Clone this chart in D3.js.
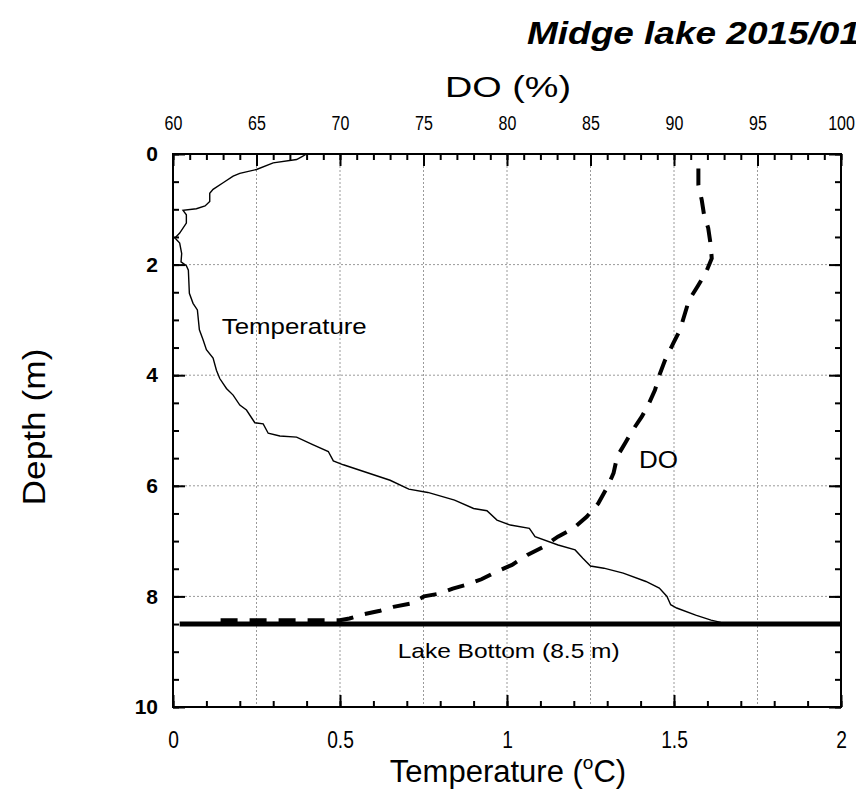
<!DOCTYPE html>
<html>
<head>
<meta charset="utf-8">
<script src="https://cdn.jsdelivr.net/npm/d3@7"></script>
<style>
    body { margin: 0; background: #fff; }
    svg { display: block; }
    .tick text { fill: #000; }
    .tick line { stroke: #000; stroke-width: 2; }
</style>
</head>
<body>
<svg id="chart" width="856" height="805"></svg>
<script>
// values
const tempDepth = [0.00, 0.05, 0.10, 0.16, 0.28, 0.35, 0.40, 0.52, 0.64, 0.71, 0.86, 0.94, 0.99, 1.02, 1.10, 1.25, 1.43, 1.52, 1.61, 1.80,
    1.95, 2.02, 2.10, 2.52, 2.70, 2.82, 3.18, 3.36, 3.54, 3.69, 3.91, 4.06, 4.24, 4.36, 4.54, 4.63, 4.86, 4.88, 5.05, 5.10,
    5.12, 5.26, 5.38, 5.55, 5.62, 5.90, 6.06, 6.12, 6.26, 6.41, 6.45, 6.62, 6.71, 6.77, 6.92, 7.07, 7.16, 7.31, 7.45, 7.49,
    7.58, 7.73, 7.85, 8.00, 8.15, 8.21, 8.34, 8.43, 8.47];
const tempValue = [0.40, 0.385, 0.37, 0.30, 0.25, 0.20, 0.18, 0.15, 0.12, 0.11, 0.11, 0.096, 0.07, 0.03, 0.04, 0.04, 0.02, 0.006, 0.02, 0.026,
    0.024, 0.04, 0.046, 0.049, 0.06, 0.073, 0.079, 0.09, 0.10, 0.12, 0.13, 0.14, 0.16, 0.18, 0.20, 0.22, 0.245, 0.27, 0.285, 0.32,
    0.37, 0.42, 0.465, 0.48, 0.51, 0.65, 0.706, 0.763, 0.843, 0.90, 0.94, 0.97, 1.01, 1.067, 1.084, 1.153, 1.204, 1.227, 1.25, 1.29,
    1.348, 1.416, 1.456, 1.479, 1.49, 1.508, 1.565, 1.611, 1.64];

const doDepth = [0.26, 0.56, 0.83, 1.10, 1.34, 1.65, 1.89, 2.15, 2.40, 2.64, 2.88, 3.18, 3.42, 3.73, 3.97, 4.27, 4.51, 4.75, 5.02, 5.23,
    5.47, 5.77, 6.01, 6.32, 6.56, 6.77, 6.92, 7.11, 7.25, 7.43, 7.55, 7.69, 7.78, 7.86, 7.95, 8.00, 8.13, 8.19, 8.26, 8.32,
    8.40, 8.43, 8.43];
const doValue = [91.46, 91.46, 91.66, 91.8, 92.05, 92.2, 92.26, 91.9, 91.4, 90.9, 90.66, 90.36, 89.96, 89.46, 89.16, 88.86, 88.5, 88.07, 87.47, 87.07,
    86.6, 86.38, 86.03, 85.46, 84.77, 83.97, 83.05, 82.14, 81.22, 80.3, 79.39, 78.47, 77.67, 76.75, 75.95, 75.03, 74.23, 73.2, 72.4, 71.48,
    70.56, 69.99, 62.55];

const lakeBottom = 8.5;
const bottomStart = 0.02;

const tempTicks = [0, 0.5, 1, 1.5, 2];
const tempLabels = ['0', '0.5', '1', '1.5', '2'];
const doTicks = [60, 65, 70, 75, 80, 85, 90, 95, 100];
const doLabels = ['60', '65', '70', '75', '80', '85', '90', '95', '100'];
const depthTicks = [0, 2, 4, 6, 8, 10];
const depthLabels = ['0', '2', '4', '6', '8', '10'];
const gridTemps = [0.25, 0.5, 0.75, 1, 1.25, 1.5, 1.75];
const gridDepths = [2, 4, 6, 8];

const W = 856, H = 805;
const margin = { top: 154, right: 15, bottom: 98, left: 173 };
const width = W - margin.left - margin.right;
const height = H - margin.top - margin.bottom;
const sans = '"Liberation Sans", Arial, sans-serif';

const svg = d3.select('#chart');

let x = d3.scaleLinear().domain([0, 2]).range([0, width]);
let xDO = d3.scaleLinear().domain([60, 100]).range([0, width]);
let y = d3.scaleLinear().domain([0, 10]).range([0, height]);

const g = svg.append('g')
    .attr('transform', 'translate(' + margin.left + ',' + margin.top + ')');

// dotted grid
g.selectAll('.vgrid')
    .data(gridTemps)
    .enter().append('line')
    .attr('class', 'vgrid')
    .attr('x1', d => x(d)).attr('x2', d => x(d))
    .attr('y1', 0).attr('y2', height)
    .attr('stroke', '#9a9a9a')
    .attr('stroke-width', 1)
    .attr('stroke-dasharray', '2,2');
g.selectAll('.hgrid')
    .data(gridDepths)
    .enter().append('line')
    .attr('class', 'hgrid')
    .attr('x1', 0).attr('x2', width)
    .attr('y1', d => y(d)).attr('y2', d => y(d))
    .attr('stroke', '#9a9a9a')
    .attr('stroke-width', 1)
    .attr('stroke-dasharray', '2,2');

function styleAxis(sel, size, weight, squeeze) {
    sel.select('.domain').remove();
    sel.selectAll('text')
        .style('font-family', sans)
        .style('font-size', size + 'px')
        .style('font-weight', weight);
    // the original tick labels use a condensed face
    if (squeeze) sel.selectAll('text').attr('transform', 'scale(' + squeeze + ',1)');
}

// bottom: temperature
g.append('g')
    .attr('transform', 'translate(0,' + height + ')')
    .call(d3.axisBottom(x).tickValues(x.ticks(20)).tickSizeInner(-6).tickSizeOuter(0).tickFormat(''))
    .call(styleAxis, 21, 'normal');
g.append('g')
    .attr('transform', 'translate(0,' + height + ')')
    .call(d3.axisBottom(x).tickValues(tempTicks).tickSizeInner(-12).tickSizeOuter(0).tickPadding(24)
        .tickFormat((d, i) => tempLabels[i]))
    .call(styleAxis, 24, 'normal', 0.8);

// top: DO
g.append('g')
    .call(d3.axisTop(xDO).tickValues(xDO.ticks(40)).tickSizeInner(-6).tickSizeOuter(0).tickFormat(''))
    .call(styleAxis, 18, 'normal');
g.append('g')
    .call(d3.axisTop(xDO).tickValues(doTicks).tickSizeInner(-12).tickSizeOuter(0).tickPadding(24)
        .tickFormat((d, i) => doLabels[i]))
    .call(styleAxis, 20, 'normal', 0.8);

// left / right: depth
g.append('g')
    .call(d3.axisLeft(y).tickValues(y.ticks(20)).tickSizeInner(-6).tickSizeOuter(0).tickFormat(''))
    .call(styleAxis, 20, 'bold');
g.append('g')
    .call(d3.axisLeft(y).tickValues(depthTicks).tickSizeInner(-12).tickSizeOuter(0).tickPadding(15)
        .tickFormat((d, i) => depthLabels[i]))
    .call(styleAxis, 21, 'bold');
g.append('g')
    .attr('transform', 'translate(' + width + ',0)')
    .call(d3.axisRight(y).tickValues(y.ticks(20)).tickSizeInner(-6).tickSizeOuter(0).tickFormat(''))
    .call(styleAxis, 20, 'normal');
g.append('g')
    .attr('transform', 'translate(' + width + ',0)')
    .call(d3.axisRight(y).tickValues(depthTicks).tickSizeInner(-12).tickSizeOuter(0).tickFormat(''))
    .call(styleAxis, 20, 'normal');

// frame
g.append('rect')
    .attr('width', width)
    .attr('height', height)
    .attr('fill', 'none')
    .attr('stroke', '#000')
    .attr('stroke-width', 2);

// lake bottom
g.append('line')
    .attr('x1', x(bottomStart)).attr('x2', x(2))
    .attr('y1', y(lakeBottom)).attr('y2', y(lakeBottom))
    .attr('stroke', '#000')
    .attr('stroke-width', 5);

// temperature profile
let tempLine = d3.line()
    .x((d, i) => x(tempValue[i]))
    .y(d => y(d));
g.append('path')
    .attr('d', tempLine(tempDepth))
    .attr('fill', 'none')
    .attr('stroke', '#000')
    .attr('stroke-width', 1.4);

// DO profile
let doLine = d3.line()
    .x((d, i) => xDO(doValue[i]))
    .y(d => y(d));
g.append('path')
    .attr('d', doLine(doDepth))
    .attr('fill', 'none')
    .attr('stroke', '#000')
    .attr('stroke-width', 4)
    .attr('stroke-dasharray', '17,12');

// in-plot labels
g.append('text')
    .attr('x', x(0.146)).attr('y', y(3.26))
    .attr('textLength', 145).attr('lengthAdjust', 'spacingAndGlyphs')
    .style('font-family', sans).style('font-size', '22px')
    .text('Temperature');
g.append('text')
    .attr('x', x(1.395)).attr('y', y(5.68))
    .attr('textLength', 39).attr('lengthAdjust', 'spacingAndGlyphs')
    .style('font-family', sans).style('font-size', '23px')
    .text('DO');
g.append('text')
    .attr('x', x(1.005)).attr('y', y(9.12))
    .attr('text-anchor', 'middle')
    .attr('textLength', 222).attr('lengthAdjust', 'spacingAndGlyphs')
    .style('font-family', sans).style('font-size', '21px')
    .text('Lake Bottom (8.5 m)');

// titles
svg.append('text')
    .attr('x', 527).attr('y', 44)
    .attr('textLength', 333).attr('lengthAdjust', 'spacingAndGlyphs')
    .style('font-family', sans).style('font-size', '32px')
    .style('font-weight', 'bold').style('font-style', 'italic')
    .text('Midge lake 2015/01');
svg.append('text')
    .attr('x', 508).attr('y', 97)
    .attr('text-anchor', 'middle')
    .attr('textLength', 126).attr('lengthAdjust', 'spacingAndGlyphs')
    .style('font-family', sans).style('font-size', '30px')
    .text('DO (%)');
svg.append('text')
    .attr('transform', 'translate(45,427) rotate(-90)')
    .attr('text-anchor', 'middle')
    .attr('textLength', 157).attr('lengthAdjust', 'spacingAndGlyphs')
    .style('font-family', sans).style('font-size', '32px')
    .text('Depth (m)');

let xt = svg.append('text')
    .attr('x', 508).attr('y', 782)
    .attr('text-anchor', 'middle')
    .style('font-family', sans).style('font-size', '31px');
xt.append('tspan').text('Temperature (');
xt.append('tspan').attr('dy', -13).style('font-size', '19px').text('o');
xt.append('tspan').attr('dy', 13).text('C)');
</script>
</body>
</html>
